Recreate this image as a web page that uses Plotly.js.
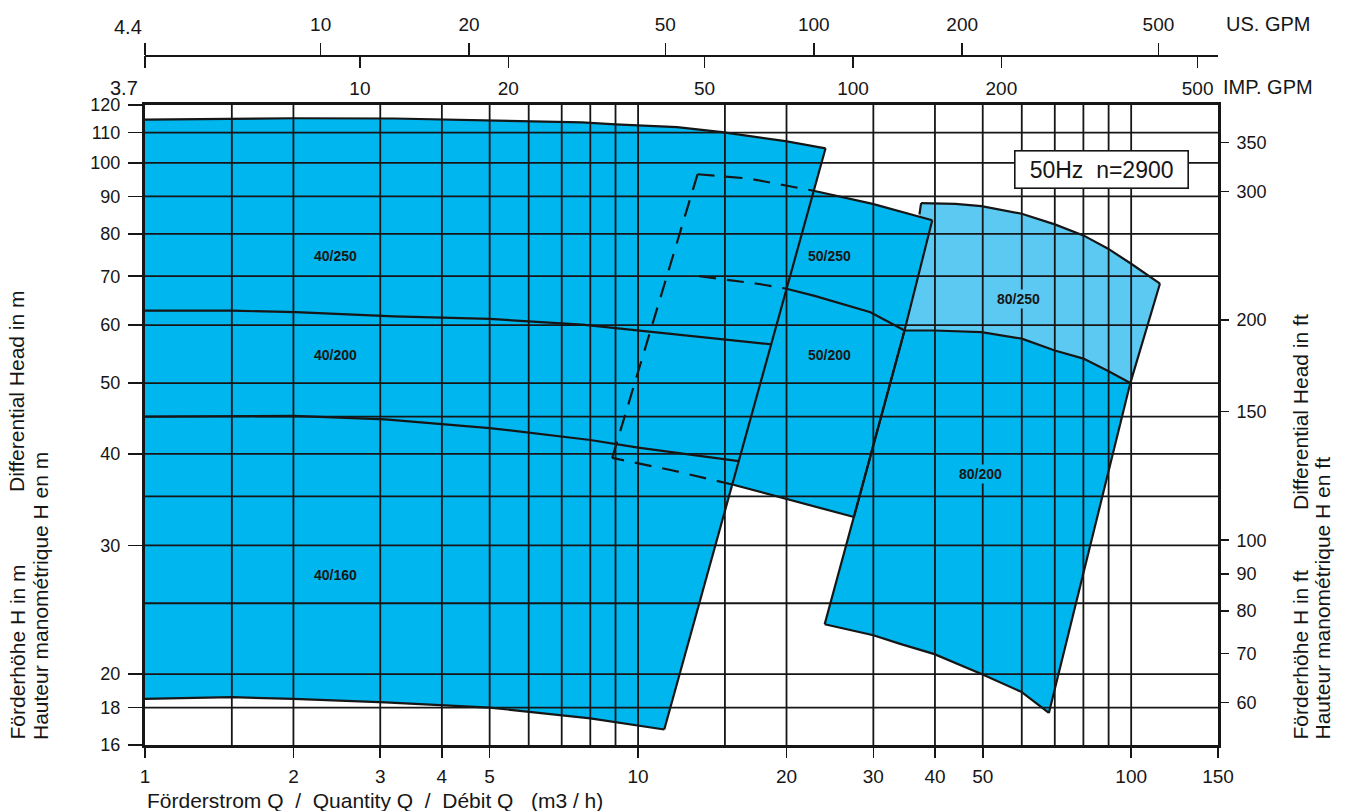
<!DOCTYPE html>
<html><head><meta charset="utf-8">
<script src="https://cdn.plot.ly/plotly-3.0.1.min.js"></script>
<style>html,body{margin:0;padding:0;background:#fff}#chart{width:1353px;height:811px}</style>
</head><body><div id="chart"></div>
<script>
// ---------- axis values ----------
const xTicks = [1, 2, 3, 4, 5, 10, 20, 30, 40, 50, 100, 150];
const xGrid  = [1.5, 2, 3, 4, 5, 6, 7, 8, 9, 10, 15, 20, 30, 40, 50, 60, 70, 80, 90, 100];
const yTicks = [16, 18, 20, 30, 40, 50, 60, 70, 80, 90, 100, 110, 120];
const yGrid  = [18, 20, 25, 30, 35, 40, 45, 50, 60, 70, 80, 90, 100, 110];
const ftTicks = [60, 70, 80, 90, 100, 150, 200, 300, 350];
const usTicks = [10, 20, 50, 100, 200, 500];
const impTicks = [10, 20, 50, 100, 200, 500];
const qRange = [1, 150];          // m3/h
const hRange = [16, 120];         // m
const FT_PER_M = 3.28084;
const US_PER_M3H = 4.40287;
const IMP_PER_M3H = 3.66615;

// ---------- pump family 40 ----------
const q40Top = [1, 2, 3.2, 5, 7.7, 9, 12, 14.8, 19.9, 24.0];
const h40Top = [114.6, 115.1, 115.0, 114.4, 113.6, 112.9, 111.9, 110.2, 107.1, 104.7];
const q40Right = [24.0, 11.3];
const h40Right = [104.7, 16.8];
const q40Bot = [1, 1.5, 2, 3.07, 5, 8, 11.3];
const h40Bot = [18.5, 18.6, 18.5, 18.3, 18.0, 17.4, 16.8];
const q40_200 = [1, 1.5, 2.02, 3.2, 5, 7.7, 18.6];
const h40_200 = [62.8, 62.8, 62.5, 61.7, 61.2, 60.1, 56.5];
const q40_160 = [1, 2, 3.07, 5, 8, 10, 16.0];
const h40_160 = [45.0, 45.1, 44.6, 43.4, 41.8, 40.8, 39.1];

// ---------- pump family 50 ----------
const q50TopDash = [13.2, 16.8, 19.8, 22.7];
const h50TopDash = [96.5, 95.2, 93.2, 91.6];
const q50Top = [22.7, 29.9, 39.5];
const h50Top = [91.6, 87.9, 83.5];
const q50Right = [39.5, 34.7, 27.4];
const h50Right = [83.5, 59.0, 32.8];
const q50Bot = [27.4, 19.5, 15.6];
const h50Bot = [32.8, 34.9, 36.3];
const q50BotDash = [15.6, 11.7, 8.86];
const h50BotDash = [36.3, 38.0, 39.5];
const q50LeftDash = [8.86, 13.2];
const h50LeftDash = [39.5, 96.5];
const q50_200Dash = [13.3, 17.6, 20.0];
const h50_200Dash = [70.0, 68.3, 67.3];
const q50_200 = [20.0, 22.8, 29.6, 34.7];
const h50_200 = [67.3, 65.8, 62.5, 59.0];

// ---------- pump family 80 ----------
const q80_250Top = [37.5, 44, 49.7, 60, 70, 80, 89.6, 100, 114.4];
const h80_250Top = [88.1, 87.9, 87.3, 85.2, 82.4, 79.6, 76.4, 72.8, 68.4];
const q80_250Left = [37.5, 37.2];
const h80_250Left = [88.1, 85.0];
const q80Right = [114.4, 99.6, 68.1];
const h80Right = [68.4, 50.0, 17.7];
const q80_200Top = [34.7, 39.9, 49.7, 60, 70, 80, 90, 99.6];
const h80_200Top = [59.0, 59.0, 58.7, 57.5, 55.4, 54.0, 51.9, 50.0];
const q80Bot = [68.1, 60, 49.7, 39.9, 34, 30, 23.9];
const h80Bot = [17.7, 18.9, 20.0, 21.3, 22.0, 22.6, 23.4];
const q80Left = [23.9, 34.7];
const h80Left = [23.4, 59.0];

// ---------- labels ----------
const regionNames = ['40/250', '40/200', '40/160', '50/250', '50/200', '80/250', '80/200'];
const regionQ = [2.43, 2.43, 2.43, 24.4, 24.4, 59.2, 49.5];
const regionH = [74.5, 54.6, 27.3, 74.5, 54.6, 65.1, 37.5];
const regionLight = [false, false, false, false, false, true, false];
const speedText = '50Hz\u00a0\u00a0n=2900';

// ---------- styles ----------
const CYAN = '#00b6ee';
const LIGHT = '#5cc9f3';
const INK = '#161616';
const SANS = '"Liberation Sans",Arial,Helvetica,sans-serif';

const W = 1353, H = 811;
const M = {l: 145, r: 135, t: 20, b: 66};
const plotW = W - M.l - M.r, plotH = H - M.t - M.b;
const frameTopPx = 105, scaleLinePx = 55;
const px2x = px => (px - M.l) / plotW;
const py2y = py => (H - M.b - py) / plotH;
const yDomTop = py2y(frameTopPx);
const scalePos = py2y(scaleLinePx);
const L = Math.log10;

const rev = a => a.slice().reverse();
const traces = [];
function fillPoly(xs, ys, color) {
  traces.push({x: xs, y: ys, type: 'scatter', mode: 'lines', fill: 'toself', fillcolor: color,
    line: {width: 0, color: color}, hoverinfo: 'skip'});
}
function line(xs, ys, dash) {
  traces.push({x: xs, y: ys, type: 'scatter', mode: 'lines',
    line: {color: INK, width: 2.2, dash: dash || 'solid'}, hoverinfo: 'skip'});
}

// fills (80 family first, then 50, then 40 on top)
fillPoly([...q80_250Top, ...q80Right.slice(1, 2), ...rev(q80_200Top)],
         [...h80_250Top, ...h80Right.slice(1, 2), ...rev(h80_200Top)], LIGHT);
fillPoly([...q80_200Top, ...q80Right.slice(2), ...q80Bot.slice(1), ...q80Left.slice(1)],
         [...h80_200Top, ...h80Right.slice(2), ...h80Bot.slice(1), ...h80Left.slice(1)], CYAN);
fillPoly([...q50TopDash, ...q50Top.slice(1), ...q50Right.slice(1), ...q50Bot.slice(1), ...q50BotDash.slice(1)],
         [...h50TopDash, ...h50Top.slice(1), ...h50Right.slice(1), ...h50Bot.slice(1), ...h50BotDash.slice(1)], CYAN);
fillPoly([...q40Top, ...rev(q40Bot)], [...h40Top, ...rev(h40Bot)], CYAN);

// grid lines drawn above the fills
const gx = [], gy = [];
xGrid.forEach(v => { gx.push(v, v, null); gy.push(hRange[0], hRange[1], null); });
yGrid.forEach(v => { gx.push(qRange[0], qRange[1], null); gy.push(v, v, null); });
traces.push({x: gx, y: gy, type: 'scatter', mode: 'lines', line: {color: INK, width: 1.8}, hoverinfo: 'skip'});

// outlines
line(q40Top, h40Top); line(q40Right, h40Right); line(q40Bot, h40Bot);
line(q40_200, h40_200); line(q40_160, h40_160);
line(q50Top, h50Top); line(q50Right, h50Right); line(q50Bot, h50Bot); line(q50_200, h50_200);
line(q80_250Top, h80_250Top); line(q80_250Left, h80_250Left); line(q80Right, h80Right);
line(q80_200Top, h80_200Top); line(q80Bot, h80Bot); line(q80Left, h80Left);
const DASH = '17px,11px';
line(q50TopDash, h50TopDash, DASH); line(q50BotDash, h50BotDash, DASH);
line(q50LeftDash, h50LeftDash, DASH); line(q50_200Dash, h50_200Dash, DASH);

// invisible carriers so the secondary scales are drawn
const ghost = {type: 'scatter', mode: 'markers', marker: {opacity: 0, size: 1}, hoverinfo: 'skip'};
traces.push(Object.assign({}, ghost, {x: qRange.map(q => q * US_PER_M3H), y: hRange, xaxis: 'x2', yaxis: 'y'}));
traces.push(Object.assign({}, ghost, {x: qRange.map(q => q * IMP_PER_M3H), y: hRange, xaxis: 'x3', yaxis: 'y'}));
traces.push(Object.assign({}, ghost, {x: qRange, y: hRange.map(h => h * FT_PER_M), xaxis: 'x', yaxis: 'y2'}));

const annotations = regionNames.map((t, i) => ({
  text: t, x: L(regionQ[i]), y: L(regionH[i]), xref: 'x', yref: 'y', showarrow: false,
  xanchor: 'center', yanchor: 'middle',
  font: {family: SANS, size: 14, color: INK, weight: 'bold'}, bgcolor: regionLight[i] ? LIGHT : CYAN, borderpad: 1
}));
function paperText(text, x, y, opts) {
  annotations.push(Object.assign({text: text, x: x, y: y, xref: 'paper', yref: 'paper', showarrow: false,
    xanchor: 'center', yanchor: 'middle', font: {family: SANS, size: 21, color: INK}}, opts || {}));
}
paperText(speedText, px2x(1101.5), py2y(170), {font: {family: SANS, size: 23, color: INK},
  bgcolor: '#fff', bordercolor: INK, borderwidth: 1.6, width: 170, height: 34, borderpad: 1});
paperText(String(Math.round(US_PER_M3H * 10) / 10), px2x(144), py2y(27), {xanchor: 'right', font: {family: SANS, size: 20, color: INK}});
paperText(String(Math.round(IMP_PER_M3H * 10) / 10), px2x(140), py2y(88), {xanchor: 'right', font: {family: SANS, size: 20, color: INK}});
paperText('US. GPM', px2x(1224), py2y(24), {xanchor: 'left', font: {family: SANS, size: 20, color: INK}});
paperText('IMP. GPM', px2x(1221), py2y(87), {xanchor: 'left', font: {family: SANS, size: 20, color: INK}});
paperText('Förderstrom Q\u00a0\u00a0/\u00a0\u00a0Quantity Q\u00a0\u00a0/\u00a0\u00a0Débit Q\u00a0\u00a0\u00a0(m3 / h)', 0, py2y(800),
  {xanchor: 'left', font: {family: SANS, size: 21, color: INK}});
paperText('Förderhöhe H in m', px2x(17), py2y(742), {textangle: -90, yanchor: 'bottom'});
paperText('Differential Head in m', px2x(17), py2y(494), {textangle: -90, yanchor: 'bottom'});
paperText('Hauteur manométrique H en m', px2x(40), py2y(742), {textangle: -90, yanchor: 'bottom'});
paperText('Förderhöhe H in ft', px2x(1300), py2y(742), {textangle: -90, yanchor: 'bottom'});
paperText('Differential Head in ft', px2x(1300), py2y(512), {textangle: -90, yanchor: 'bottom'});
paperText('Hauteur manométrique H en ft', px2x(1322), py2y(742), {textangle: -90, yanchor: 'bottom'});

const common = {zeroline: false, showgrid: false, tickcolor: INK, linecolor: INK, tickmode: 'array', fixedrange: true};
const layout = {
  width: W, height: H, margin: Object.assign({pad: 0}, M),
  paper_bgcolor: '#fff', plot_bgcolor: '#fff', showlegend: false,
  xaxis: Object.assign({}, common, {type: 'log', range: [L(qRange[0]), L(qRange[1])], domain: [0, 1], anchor: 'y',
    showline: true, linewidth: 3, mirror: true, ticks: 'outside', ticklen: 10, tickwidth: 1.6,
    tickvals: xTicks, ticktext: xTicks.map(String), tickfont: {family: SANS, size: 19, color: INK}, ticklabelstandoff: 2}),
  yaxis: Object.assign({}, common, {type: 'log', range: [L(hRange[0]), L(hRange[1])], domain: [0, yDomTop], anchor: 'x',
    showline: true, linewidth: 3, mirror: true, ticks: 'outside', ticklen: 14, tickwidth: 1.6,
    tickvals: yTicks, ticktext: yTicks.map(String), tickfont: {family: SANS, size: 18, color: INK}, ticklabelstandoff: 4}),
  yaxis2: Object.assign({}, common, {type: 'log', overlaying: 'y', side: 'right', anchor: 'x',
    range: [L(hRange[0] * FT_PER_M), L(hRange[1] * FT_PER_M)], showline: false, ticks: 'outside', ticklen: 10, tickwidth: 1.6,
    tickvals: ftTicks, ticktext: ftTicks.map(String), tickfont: {family: SANS, size: 18, color: INK}, ticklabelstandoff: 4}),
  xaxis2: Object.assign({}, common, {type: 'log', overlaying: 'x', anchor: 'free', position: scalePos, side: 'top',
    range: [L(qRange[0] * US_PER_M3H), L(qRange[1] * US_PER_M3H)], showline: true, linewidth: 1.6, ticks: 'outside', ticklen: 12, tickwidth: 1.6,
    tickvals: [qRange[0] * US_PER_M3H, ...usTicks], ticktext: ['', ...usTicks.map(String)],
    tickfont: {family: SANS, size: 19, color: INK}, ticklabelstandoff: 4}),
  xaxis3: Object.assign({}, common, {type: 'log', overlaying: 'x', anchor: 'free', position: scalePos, side: 'bottom',
    range: [L(qRange[0] * IMP_PER_M3H), L(qRange[1] * IMP_PER_M3H)], showline: false, ticks: 'outside', ticklen: 12, tickwidth: 1.6,
    tickvals: [qRange[0] * IMP_PER_M3H, ...impTicks], ticktext: ['', ...impTicks.map(String)],
    tickfont: {family: SANS, size: 19, color: INK}, ticklabelstandoff: 4}),
  annotations: annotations
};
Plotly.newPlot('chart', traces, layout, {displayModeBar: false, staticPlot: true});
</script></body></html>
